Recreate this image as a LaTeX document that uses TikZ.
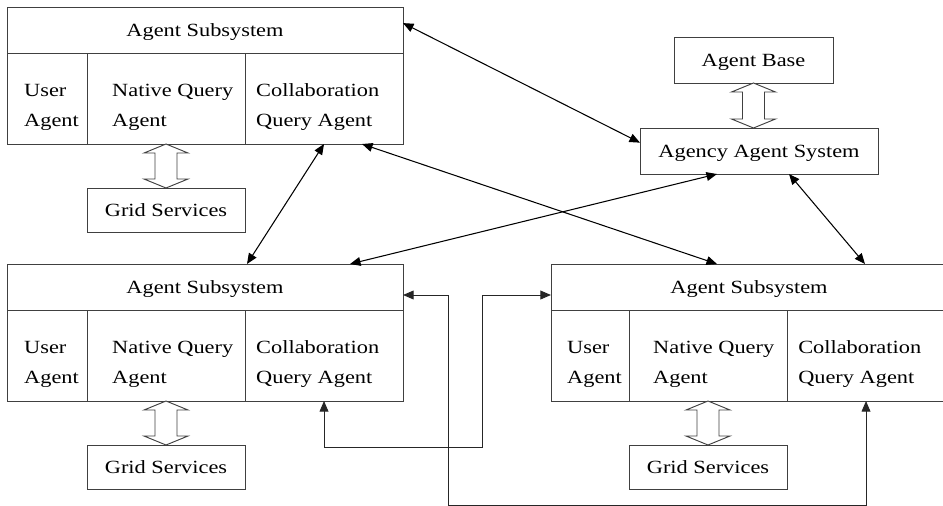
\documentclass[tikz,border=0pt]{standalone}
\usepackage{fontspec}
\setmainfont{Liberation Serif}[FakeStretch=1.2]
\usetikzlibrary{positioning,calc,arrows.meta}

\begin{document}
\begin{tikzpicture}[
	x=0.03cm, y=-0.03cm,
	font=\fontsize{15.9pt}{25.6pt}\selectfont,
	>={Triangle[length=9pt,width=7.5pt]},
	box/.style={
		draw=black!75, line width=0.8pt,
		inner sep=0pt, outer sep=0pt,
		text depth=0pt,
	},
	hdrbox/.style={box, anchor=north west,
		minimum width=11.88cm, minimum height=1.38cm},
	usercell/.style={box, anchor=north west,
		minimum width=2.4cm, minimum height=2.73cm},
	querycell/.style={box, anchor=north west,
		minimum width=4.74cm, minimum height=2.73cm},
	gridbox/.style={box, below=1.32cm of #1,
		minimum width=4.74cm, minimum height=1.32cm},
	celltext/.style={inner sep=0pt, anchor=west, align=left},
	hollow/.style={draw=black!75, line width=0.8pt, fill=white},
	link/.style={<->, line width=0.9pt},
	elbow/.style={<->, draw=black!85, line width=0.8pt},
]

\useasboundingbox (0,0) rectangle (943,506);
\clip (0,0) rectangle (943,506);

% Upper subsystem
\node [hdrbox] (tlhdr) at (7,7) {Agent Subsystem};
\node [usercell] (tlusr) at (tlhdr.south west) {};
\node [querycell] (tlnat) at (tlusr.north east) {};
\node [querycell] (tlcol) at (tlnat.north east) {};
\node [celltext] (tlusrtxt) at ($(tlusr.west)+(17,9)$) {User\\Agent};
\node [celltext] (tlnattxt) at ($(tlnat.west)+(25,9)$) {Native Query\\Agent};
\node [celltext] (tlcoltxt) at ($(tlcol.west)+(11,9)$) {Collaboration\\Query Agent};
\node [gridbox=tlnat] (tlgrid) {Grid Services};

% Lower left subsystem
\node [hdrbox] (blhdr) at (7,264) {Agent Subsystem};
\node [usercell] (blusr) at (blhdr.south west) {};
\node [querycell] (blnat) at (blusr.north east) {};
\node [querycell] (blcol) at (blnat.north east) {};
\node [celltext] (blusrtxt) at ($(blusr.west)+(17,9)$) {User\\Agent};
\node [celltext] (blnattxt) at ($(blnat.west)+(25,9)$) {Native Query\\Agent};
\node [celltext] (blcoltxt) at ($(blcol.west)+(11,9)$) {Collaboration\\Query Agent};
\node [gridbox=blnat] (blgrid) {Grid Services};

% Lower right subsystem
\node [hdrbox] (brhdr) at (551,264) {Agent Subsystem};
\node [usercell, minimum width=2.34cm] (brusr) at (brhdr.south west) {};
\node [querycell] (brnat) at (brusr.north east) {};
\node [querycell] (brcol) at (brnat.north east) {};
\node [celltext] (brusrtxt) at ($(brusr.west)+(16,9)$) {User\\Agent};
\node [celltext] (brnattxt) at ($(brnat.west)+(24,9)$) {Native Query\\Agent};
\node [celltext] (brcoltxt) at ($(brcol.west)+(11,9)$) {Collaboration\\Query Agent};
\node [gridbox=brnat] (brgrid) {Grid Services};

% Agency side
\node [box, anchor=north west, minimum width=4.77cm, minimum height=1.38cm]
	(base) at (674,37) {Agent Base};
\node [box, anchor=north west, minimum width=7.14cm, minimum height=1.38cm]
	(agency) at (640,128) {Agency Agent System};
\coordinate (basefoot) at (base.south |- agency.north);

% Hollow double arrows
\draw [hollow] (tlnat.south) -- ++(22,9) -- ++(-11,0) -- ($(tlgrid.north)+(11,-9)$) -- ++(11,0) -- (tlgrid.north) -- ++(-22,-9) -- ++(11,0) -- ($(tlnat.south)+(-11,9)$) -- ++(-11,0) -- cycle;
\draw [hollow] (blnat.south) -- ++(22,9) -- ++(-11,0) -- ($(blgrid.north)+(11,-9)$) -- ++(11,0) -- (blgrid.north) -- ++(-22,-9) -- ++(11,0) -- ($(blnat.south)+(-11,9)$) -- ++(-11,0) -- cycle;
\draw [hollow] (brnat.south) -- ++(22,9) -- ++(-11,0) -- ($(brgrid.north)+(11,-9)$) -- ++(11,0) -- (brgrid.north) -- ++(-22,-9) -- ++(11,0) -- ($(brnat.south)+(-11,9)$) -- ++(-11,0) -- cycle;
\draw [hollow] (base.south) -- ++(22,9) -- ++(-11,0) -- ($(basefoot)+(11,-9)$) -- ++(11,0) -- (basefoot) -- ++(-22,-9) -- ++(11,0) -- ($(base.south)+(-11,9)$) -- ++(-11,0) -- cycle;

% Straight links
\draw [link] (tlhdr.2) -- (agency.176);
\draw [link] (tlcol.south) -- ($(blhdr.north)+(42,0)$);
\draw [link] ($(tlcol.south)+(38,0)$) -- ($(brhdr.north)+(-32,0)$);
\draw [link] ($(agency.south)+(-42,0)$) -- ($(blhdr.north)+(145,0)$);
\draw [link] ($(agency.south)+(30,0)$) -- ($(brhdr.north)+(116,0)$);

% Elbow links between the lower subsystems
\draw [elbow] (blcol.south) -- ++(0,46) -| ($(brhdr.west)+(-69,8)$) -- ($(brhdr.west)+(0,8)$);
\draw [elbow] ($(blhdr.east)+(0,8)$) -- ++(45,0) -- ++(0,210) -| (brcol.south);

\end{tikzpicture}
\end{document}
